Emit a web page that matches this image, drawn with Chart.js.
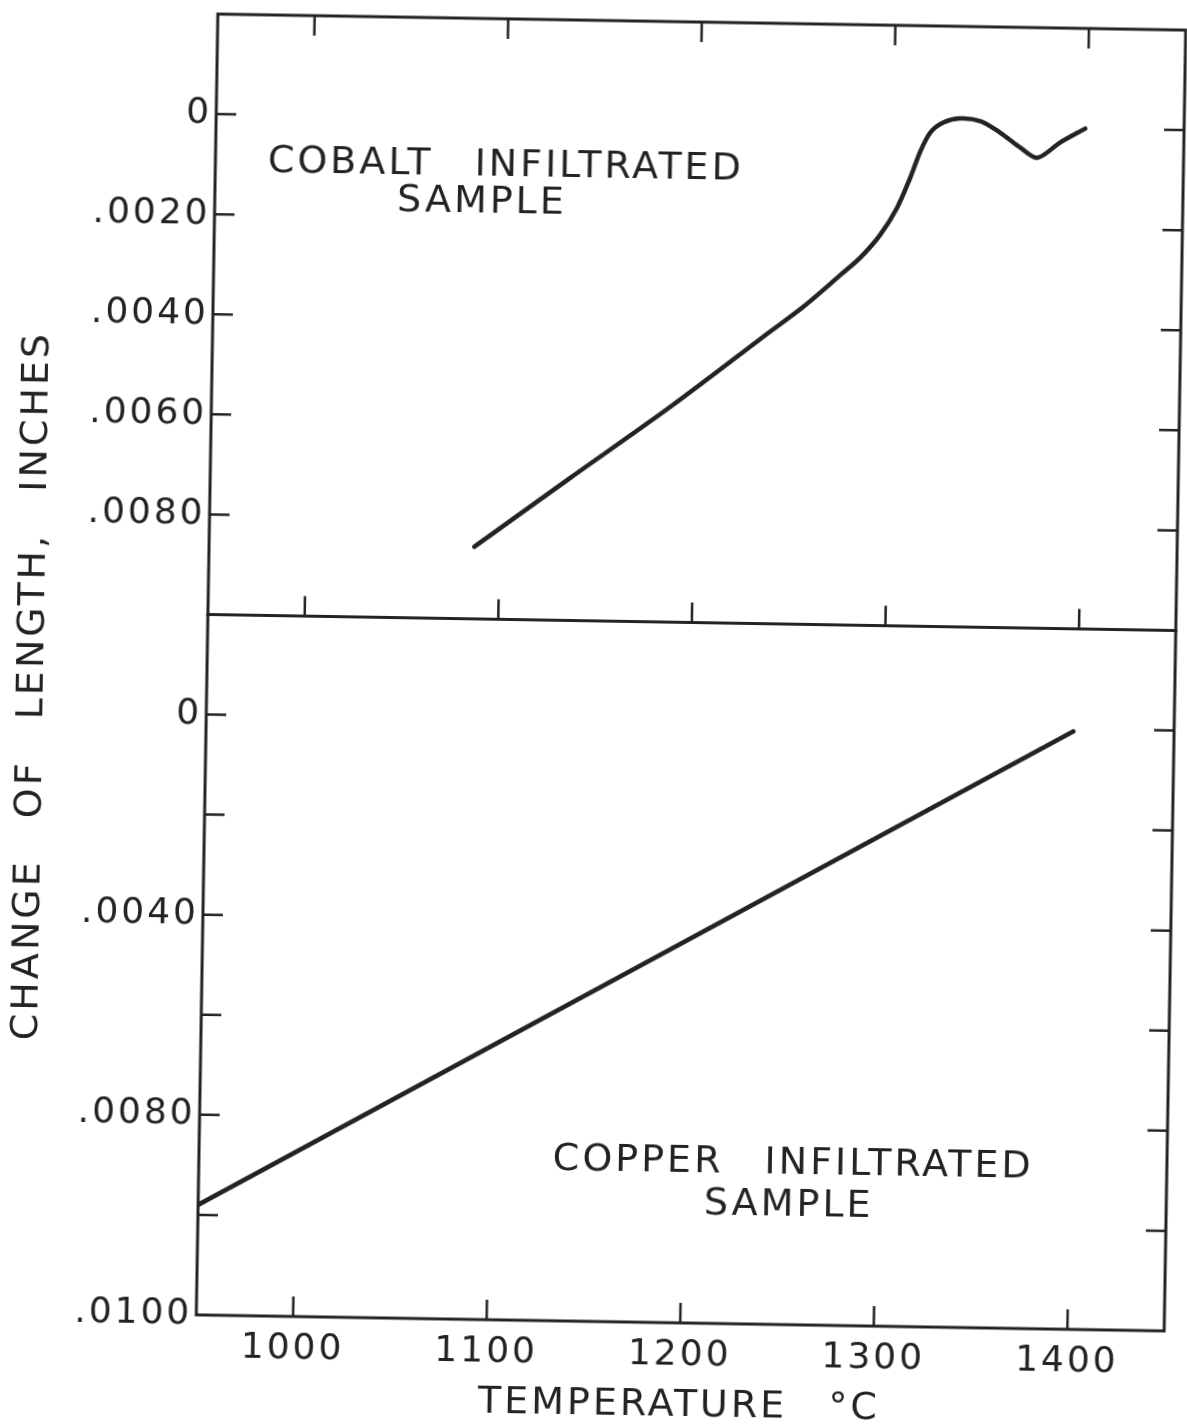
<!DOCTYPE html>
<html>
<head>
<meta charset="utf-8">
<title>Change of length vs temperature</title>
<script src="https://cdn.jsdelivr.net/npm/chart.js@4.4.1/dist/chart.umd.min.js"></script>
<style>
  html, body { margin: 0; padding: 0; background: #fff; overflow: hidden; }
  /* the whole plate sits at a slight angle */
  #plate { position: absolute; left: 0; top: 0; width: 1187px; height: 1425px;
           transform-origin: 691px 673px; transform: rotate(0.95deg); }
  canvas { display: block; }
</style>
</head>
<body>
<div id="plate"><canvas id="chart" width="1187" height="1425"></canvas></div>
<script>
// Cobalt infiltrated sample: temperature (deg C) vs change of length (in)
const cobaltTemp = [1087, 1136, 1187, 1238, 1255, 1274, 1284, 1294, 1302.5, 1309, 1314, 1319,
                    1325.5, 1334, 1345, 1355, 1365.5, 1374.5, 1386, 1399];
const cobaltChange = [0.00856, 0.00715, 0.00570, 0.00416, 0.00365, 0.00300, 0.00265, 0.00219,
                      0.00164, 0.00104, 0.00051, 0.00013, -0.00007, -0.00016, -0.00011, 0.00011,
                      0.00040, 0.00060, 0.00029, 0.00000];

// Copper infiltrated sample
const copperTemp = [950, 1398];
const copperChange = [0.0098, 0.00005];

// axes
const tempTicks = [1000, 1100, 1200, 1300, 1400];
const tempLabels = ['1000', '1100', '1200', '1300', '1400'];
const topTicks = [0, 0.002, 0.004, 0.006, 0.008];
const topLabels = ['0', '.0020', '.0040', '.0060', '.0080'];
const bottomTicks = [0, 0.004, 0.008, 0.012];
const bottomLabels = ['0', '.0040', '.0080', '.0100'];
const bottomMarks = [0, 0.002, 0.004, 0.006, 0.008, 0.010];

const INK = '#232323';
const FONT = '"DejaVu Sans", "Liberation Sans", sans-serif';

function points(xs, ys) {
  return xs.map((x, i) => ({ x: x, y: ys[i] }));
}

function fixedTicks(values) {
  return axis => { axis.ticks = values.map(v => ({ value: v })); };
}

// frame, inward tick marks and hand lettered notes
const plateDecor = {
  id: 'plateDecor',
  beforeDraw(chart) {
    chart.ctx.letterSpacing = '3px';
    chart.ctx.wordSpacing = '26px';
  },
  afterDraw(chart) {
    const { ctx, chartArea: a, scales } = chart;
    const xs = scales.x, yt = scales.yTop, yb = scales.yBot;
    const mid = yt.bottom;
    const len = 20;

    ctx.save();
    ctx.strokeStyle = INK;
    ctx.lineWidth = 3;
    ctx.lineCap = 'square';
    ctx.strokeRect(a.left, a.top, a.width, a.height);
    ctx.beginPath();
    ctx.moveTo(a.left, mid);
    ctx.lineTo(a.right, mid);
    ctx.stroke();

    ctx.lineWidth = 2.5;
    ctx.lineCap = 'butt';
    ctx.beginPath();
    tempTicks.forEach(t => {
      const px = xs.getPixelForValue(t);
      ctx.moveTo(px, a.top); ctx.lineTo(px, a.top + len);
      ctx.moveTo(px, mid); ctx.lineTo(px, mid - len);
      ctx.moveTo(px, a.bottom); ctx.lineTo(px, a.bottom - len);
    });
    const sideMarks = (scale, values) => values.forEach(v => {
      const py = scale.getPixelForValue(v);
      ctx.moveTo(a.left, py); ctx.lineTo(a.left + len, py);
      ctx.moveTo(a.right, py); ctx.lineTo(a.right - len, py);
    });
    sideMarks(yt, topTicks);
    sideMarks(yb, bottomMarks);
    ctx.stroke();

    ctx.fillStyle = INK;
    ctx.font = '38px ' + FONT;
    ctx.letterSpacing = '3px';
    ctx.wordSpacing = '26px';
    ctx.textAlign = 'center';
    ctx.textBaseline = 'alphabetic';
    const note = (text, t, v, scale) =>
      ctx.fillText(text, xs.getPixelForValue(t), scale.getPixelForValue(v) + 14);
    note('COBALT INFILTRATED', 1100, 0.00085, yt);
    note('SAMPLE', 1088, 0.0016, yt);
    note('COPPER INFILTRATED', 1257, 0.0087, yb);
    note('SAMPLE', 1255, 0.00954, yb);

    // vertical axis title shared by both panels
    ctx.translate(a.left - 178, (a.top + a.bottom) / 2 + 24);
    ctx.rotate(-Math.PI / 2);
    ctx.fillText('CHANGE OF LENGTH, INCHES', 0, 14);
    ctx.restore();
  }
};

const tickFont = { family: FONT, size: 36 };

const yAxis = (min, max, values, labels, weight, stackWeight) => ({
  type: 'linear',
  position: 'left',
  stack: 'panels',
  stackWeight: stackWeight,
  weight: weight,
  reverse: true,
  min: min,
  max: max,
  grid: { display: false, drawTicks: false },
  border: { display: false },
  afterBuildTicks: fixedTicks(values),
  afterFit: axis => { axis.width = 200; axis.paddingTop = 0; axis.paddingBottom = 0; },
  ticks: {
    color: INK,
    font: tickFont,
    padding: 4,
    callback: (v, i) => labels[i]
  }
});

new Chart(document.getElementById('chart'), {
  type: 'line',
  data: {
    datasets: [
      {
        label: 'Cobalt infiltrated sample',
        data: points(cobaltTemp, cobaltChange),
        yAxisID: 'yTop',
        borderColor: INK,
        borderWidth: 4.5,
        pointRadius: 0,
        tension: 0.3,
        borderCapStyle: 'round',
        borderJoinStyle: 'round'
      },
      {
        label: 'Copper infiltrated sample',
        data: points(copperTemp, copperChange),
        yAxisID: 'yBot',
        borderColor: INK,
        borderWidth: 4.5,
        pointRadius: 0,
        borderCapStyle: 'round'
      }
    ]
  },
  options: {
    responsive: false,
    animation: false,
    events: [],
    layout: { padding: { left: 7, top: 22, right: 12, bottom: 0 } },
    plugins: { legend: { display: false }, tooltip: { enabled: false } },
    scales: {
      x: {
        type: 'linear',
        position: 'bottom',
        min: 950,
        max: 1450,
        grid: { display: false, drawTicks: false },
        border: { display: false },
        afterBuildTicks: fixedTicks(tempTicks),
        afterFit: axis => { axis.height = 102; axis.paddingLeft = 0; axis.paddingRight = 0; },
        ticks: {
          color: INK,
          font: tickFont,
          padding: 11,
          maxRotation: 0,
          callback: (v, i) => tempLabels[i]
        },
        title: {
          display: true,
          text: 'TEMPERATURE °C',
          color: INK,
          font: { family: FONT, size: 38, lineHeight: 1 },
          padding: { top: 0, bottom: 0 }
        }
      },
      yTop: yAxis(-0.002, 0.010, topTicks, topLabels, 1, 6),
      yBot: yAxis(-0.002, 0.012, bottomTicks, bottomLabels, 0, 7)
    }
  },
  plugins: [plateDecor]
});
</script>
</body>
</html>
